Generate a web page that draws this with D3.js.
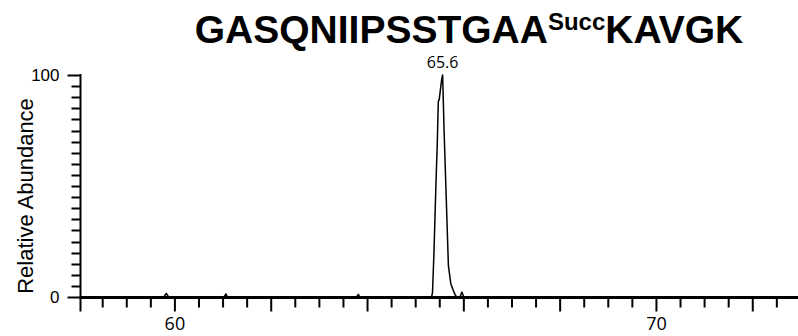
<!DOCTYPE html>
<html>
<head>
<meta charset="utf-8">
<script src="https://cdn.jsdelivr.net/npm/d3@7"></script>
<style>
  html, body { margin: 0; padding: 0; background: #fff; }
  svg { display: block; }
</style>
</head>
<body>
<svg id="chart" width="798" height="336"></svg>
<script>
// Retention time (min) and relative abundance of the extracted ion chromatogram
const retentionTime = [
  58.06, 59.78, 59.83, 59.88, 61.03, 61.07, 61.10, 63.78, 63.82, 63.85,
  65.34, 65.36, 65.39, 65.43, 65.46, 65.48, 65.50, 65.55, 65.57, 65.60,
  65.64, 65.69, 65.74, 65.79, 65.84, 65.88, 65.93, 65.97, 66.01, 72.95
];
const abundance = [
  0, 0, 1.6, 0, 0, 1.4, 0, 0, 1.2, 0,
  0, 2, 20, 50, 70, 88, 89, 98, 100, 75,
  48, 14, 6, 3, 0.5, 0, 0, 2.2, 0, 0
];
const titleMain = "GASQNIIPSSTGAA";
const titleMod = "Succ";
const titleTail = "KAVGK";
const yTickValues = d3.range(0, 101, 5);
const yTickLabels = [0, 100];
const xMinorTicks = d3.range(58.5, 72.51, 0.5);
const xMajorTicks = d3.range(60, 72.1, 2);
const xTickLabels = [60, 70];
const yAxisTitle = "Relative Abundance";

const svg = d3.select("#chart");
const x = d3.scaleLinear().domain([58.06, 72.95]).range([81, 798]);
const y = d3.scaleLinear().domain([0, 100]).range([297, 75]);
const axisX = 80.5;

// Title with the modified residue written as a superscript
const title = svg.append("text")
  .attr("x", 469).attr("y", 43)
  .attr("text-anchor", "middle")
  .attr("font-family", "Liberation Sans, Arial, sans-serif")
  .attr("font-weight", "bold")
  .attr("font-size", 39)
  .attr("fill", "#000");
title.append("tspan").text(titleMain);
title.append("tspan").attr("font-size", 24).attr("dy", -13).text(titleMod);
title.append("tspan").attr("dy", 13).text(titleTail);

// Trace
const line = d3.line().x((d, i) => x(retentionTime[i])).y(d => y(d));
svg.append("path")
  .datum(abundance)
  .attr("d", line)
  .attr("fill", "none")
  .attr("stroke", "#000")
  .attr("stroke-width", 1.5)
  .attr("stroke-linejoin", "round");

// Y axis: spine plus ticks every 5 %, longer at the labelled ends, as one path
const yPath = d3.path();
yPath.moveTo(axisX, y(100) - 1);
yPath.lineTo(axisX, y(0));
yTickValues.forEach(v => {
  const ty = Math.round(y(v)) + 0.5;
  yPath.moveTo(axisX - (yTickLabels.includes(v) ? 13 : 9), ty);
  yPath.lineTo(axisX, ty);
});
svg.append("path")
  .attr("d", yPath.toString())
  .attr("fill", "none")
  .attr("stroke", "#000")
  .attr("stroke-width", 2);

svg.append("g")
  .selectAll("text")
  .data(yTickLabels)
  .join("text")
  .attr("x", 59.5).attr("y", d => y(d))
  .attr("dy", "0.36em")
  .attr("text-anchor", "end")
  .attr("fill", "#000")
  .attr("font-family", "Liberation Sans, Arial, sans-serif")
  .attr("font-size", 17)
  .text(d => d);

// X axis: minor ticks every 0.5 min, major every 2 min
const xAxis = svg.append("g").attr("transform", "translate(0,297.5)");
xAxis.append("g")
  .call(d3.axisBottom(x).tickValues(xMinorTicks.filter(v => !xMajorTicks.includes(v))).tickSize(10).tickFormat(""))
  .call(g => g.select(".domain").remove())
  .selectAll(".tick line").attr("stroke", "#000").attr("stroke-width", 2);
xAxis.append("g")
  .call(d3.axisBottom(x).tickValues(xMajorTicks).tickSize(14)
    .tickFormat(d => xTickLabels.includes(d) ? d : ""))
  .call(g => g.select(".domain").remove())
  .call(g => g.selectAll(".tick line").attr("stroke", "#000").attr("stroke-width", 2))
  .call(g => g.selectAll(".tick text")
    .attr("y", 20)
    .attr("font-family", "Open Sans, sans-serif")
    .attr("font-size", 18)
    .attr("fill", "#000"));
xAxis.append("line")
  .attr("x1", 79.5).attr("x2", 798)
  .attr("stroke", "#000").attr("stroke-width", 3);
xAxis.append("line")
  .attr("x1", axisX).attr("x2", axisX).attr("y1", 0).attr("y2", 14)
  .attr("stroke", "#000").attr("stroke-width", 2);

// Axis title
svg.append("text")
  .attr("transform", "translate(33,196) rotate(-90)")
  .attr("text-anchor", "middle")
  .attr("font-family", "Liberation Sans, Arial, sans-serif")
  .attr("font-size", 22)
  .text(yAxisTitle);

// Apex annotation
const apexIndex = d3.maxIndex(abundance);
svg.append("text")
  .attr("x", x(retentionTime[apexIndex]))
  .attr("y", y(abundance[apexIndex]) - 7)
  .attr("text-anchor", "middle")
  .attr("font-family", "Open Sans, sans-serif")
  .attr("font-size", 16)
  .text(d3.format(".1f")(retentionTime[apexIndex]));
</script>
</body>
</html>
